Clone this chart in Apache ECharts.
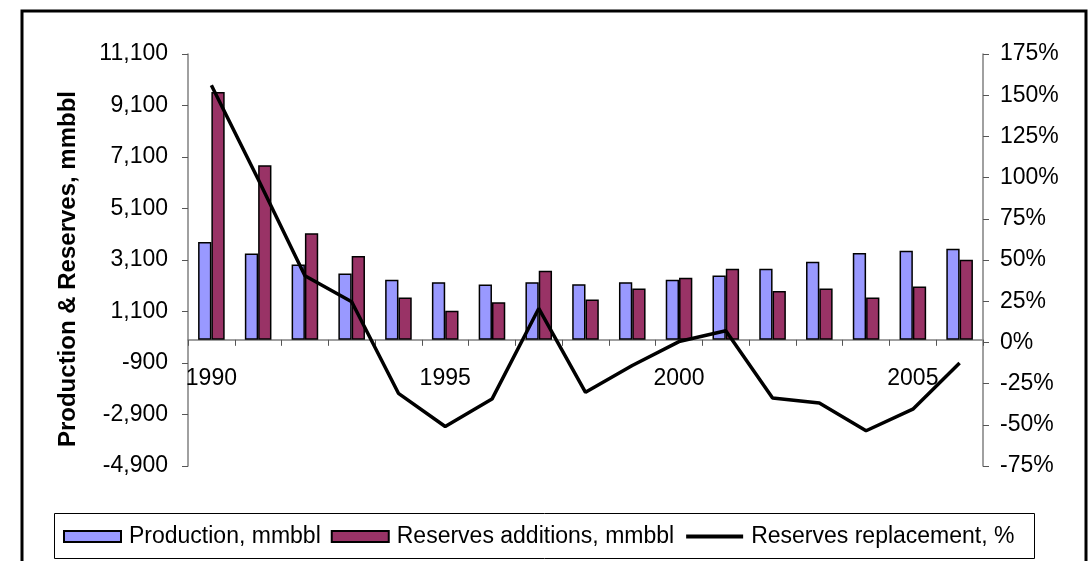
<!DOCTYPE html>
<html>
<head>
<meta charset="utf-8">
<script src="https://cdn.jsdelivr.net/npm/echarts@6/dist/echarts.min.js"></script>
<style>
  html, body { margin: 0; padding: 0; background: #fff; }
  #chart { width: 1090px; height: 561px; }
</style>
</head>
<body>
<div id="chart"></div>
<script>
const years = ['1990','1991','1992','1993','1994','1995','1996','1997','1998','1999','2000','2001','2002','2003','2004','2005','2006'];
const production = [3800, 3350, 2930, 2580, 2330, 2240, 2150, 2240, 2160, 2240, 2330, 2500, 2760, 3030, 3370, 3460, 3540];
const reservesAdditions = [9620, 6780, 4140, 3260, 1640, 1130, 1460, 2680, 1570, 1990, 2410, 2760, 1900, 1990, 1640, 2070, 3110];
const replacementPct = [156, 99, 40.5, 24.7, -30.9, -51, -34.4, 20.6, -30.3, -14, 0.5, 7.1, -33.8, -36.8, -53.6, -40.5, -12.5];
const leftTicks = [-4900, -2900, -900, 1100, 3100, 5100, 7100, 9100, 11100];

const FONT = "'Liberation Sans', Arial, sans-serif";
const fmtComma = v => {
  const s = Math.abs(v).toString().replace(/\B(?=(\d{3})+(?!\d))/g, ',');
  return (v < 0 ? '-' : '') + s;
};

const chart = echarts.init(document.getElementById('chart'), null, { renderer: 'canvas' });
chart.setOption({
  backgroundColor: '#fff',
  animation: false,
  textStyle: { fontFamily: FONT },
  grid: { left: 188, right: 107, top: 54, bottom: 95, containLabel: false },
  graphic: [
    { type: 'rect', shape: { x: 22, y: 11, width: 1064, height: 600 },
      style: { fill: 'none', stroke: '#000', lineWidth: 3 }, z: 0, silent: true },
    { type: 'rect', shape: { x: 54.5, y: 513.5, width: 980, height: 45 },
      style: { fill: 'none', stroke: '#000', lineWidth: 1 }, z: 0, silent: true }
  ],
  legend: {
    left: 58, top: 520,
    itemWidth: 57, itemHeight: 11, itemGap: 10,
    textStyle: { fontFamily: FONT, fontSize: 23, color: '#000', padding: [0, 0, 0, 3] },
    data: [
      { name: 'Production, mmbbl', icon: 'rect' },
      { name: 'Reserves additions, mmbbl', icon: 'rect' },
      { name: 'Reserves replacement, %', itemStyle: { opacity: 0 }, lineStyle: { width: 4, color: '#000' } }
    ]
  },
  xAxis: {
    type: 'category',
    data: years,
    boundaryGap: true,
    axisLine: { onZero: true, onZeroAxisIndex: 0, lineStyle: { color: '#808080', width: 1.5 } },
    axisTick: { show: true, interval: 0, length: 6, inside: false, lineStyle: { color: '#555', width: 1 } },
    axisLabel: { interval: 4, margin: -99, fontFamily: FONT, fontSize: 23, color: '#000' },
    splitLine: { show: false }
  },
  yAxis: [
    {
      type: 'value', min: -4900, max: 11100, position: 'left',
      name: 'Production & Reserves, mmbbl',
      nameLocation: 'middle', nameGap: 108, nameRotate: 90,
      nameTextStyle: { fontFamily: FONT, fontSize: 24, fontWeight: 'bold', color: '#000', padding: [0, 18, 0, 0] },
      axisLine: { show: true, lineStyle: { color: '#808080', width: 1.5 } },
      axisTick: { show: true, length: 6, customValues: leftTicks, lineStyle: { color: '#555' } },
      axisLabel: { customValues: leftTicks, margin: 20, fontFamily: FONT, fontSize: 23, color: '#000',
                   formatter: v => fmtComma(v) },
      splitLine: { show: false }
    },
    {
      type: 'value', min: -75, max: 175, interval: 25, position: 'right',
      axisLine: { show: true, lineStyle: { color: '#808080', width: 1.5 } },
      axisTick: { show: true, length: 6, lineStyle: { color: '#555' } },
      axisLabel: { margin: 17, fontFamily: FONT, fontSize: 23, color: '#000', formatter: '{value}%' },
      splitLine: { show: false }
    }
  ],
  series: [
    {
      name: 'Production, mmbbl', type: 'bar', yAxisIndex: 0, data: production,
      barWidth: 13.3, barGap: '0%',
      itemStyle: { color: '#9999FF', borderColor: '#000', borderWidth: 1.5 }
    },
    {
      name: 'Reserves additions, mmbbl', type: 'bar', yAxisIndex: 0, data: reservesAdditions,
      barWidth: 13.3, barGap: '0%',
      itemStyle: { color: '#993366', borderColor: '#000', borderWidth: 1.5 }
    },
    {
      name: 'Reserves replacement, %', type: 'line', yAxisIndex: 1, data: replacementPct,
      showSymbol: false, symbol: 'none', z: 5,
      lineStyle: { color: '#000', width: 3.5 },
      itemStyle: { color: '#000' }
    }
  ]
});
</script>
</body>
</html>
